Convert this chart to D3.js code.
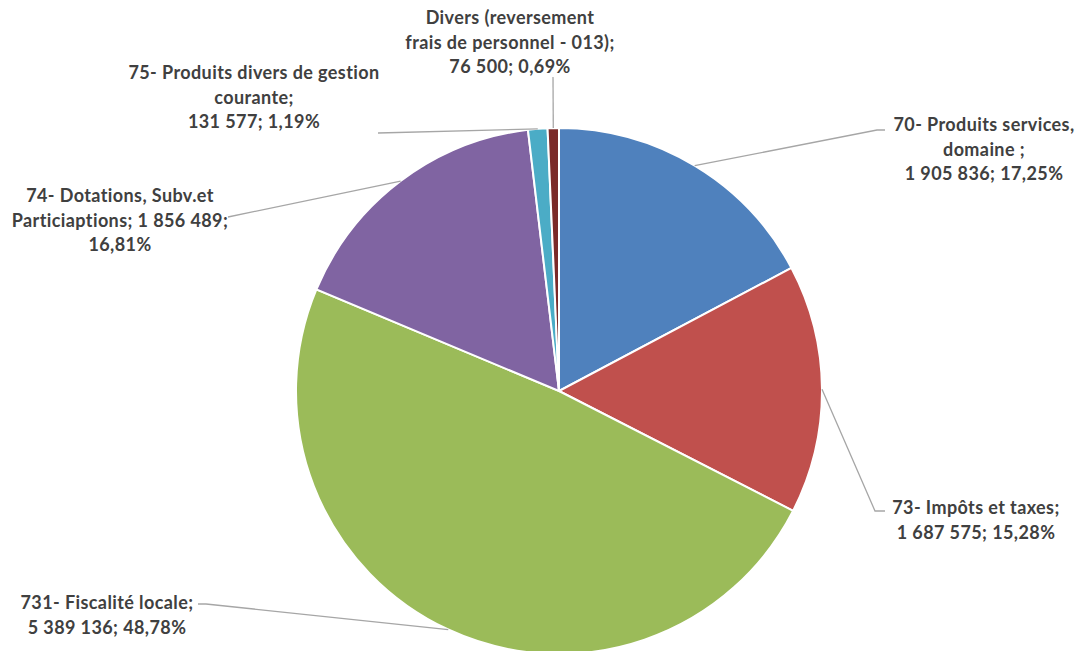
<!DOCTYPE html>
<html>
<head>
<meta charset="utf-8">
<script src="https://cdn.jsdelivr.net/npm/d3@7"></script>
<style>
  body { margin: 0; background: #fff; }
  svg { display: block; }
</style>
</head>
<body>
<div id="pie-div"></div>
<script>
// chart data
const categories = ["70", "73", "731", "74", "75", "Divers"]
const values = [1905836, 1687575, 5389136, 1856489, 131577, 76500]
const percents = ["17,25%", "15,28%", "48,78%", "16,81%", "1,19%", "0,69%"]
const valueLabels = ["1 905 836", "1 687 575", "5 389 136", "1 856 489", "131 577", "76 500"]
const labelLines = [
  ["70- Produits services,", "domaine ;", "1 905 836; 17,25%"],
  ["73- Impôts et taxes;", "1 687 575; 15,28%"],
  ["731- Fiscalité locale;", "5 389 136; 48,78%"],
  ["74- Dotations, Subv.et", "Particiaptions; 1 856 489;", "16,81%"],
  ["75- Produits divers de gestion", "courante;", "131 577; 1,19%"],
  ["Divers (reversement", "frais de personnel - 013);", "76 500; 0,69%"]
]
const colors = ["#4f81bd", "#c0504d", "#9bbb59", "#8064a2", "#4bacc6", "#7b2a28"]

// layout of the labels: text centre x, first baseline, leader path end points
const labelPos = [
  {x: 984, y: 131, leader: [[877, 130], [885, 130]]},
  {x: 976, y: 514, leader: [[875, 511], [885, 511]]},
  {x: 107, y: 609, leader: [[206, 604], [198, 604]]},
  {x: 120, y: 202, leader: [[228, 217]]},
  {x: 254, y: 79,  leader: [[378, 133]]},
  {x: 510, y: 24,  leader: [[553, 77]]}
]

var width = 1088, height = 651
const cx = 559, cy = 391, radius = 263

var svg = d3.select("#pie-div")
  .append("svg")
    .attr("width", width)
    .attr("height", height)

const g = svg.append("g")
  .attr("transform", `translate(${cx}, ${cy})`)

const pie = d3.pie()
  .sort(null)
  .value(d => d)
const data_ready = pie(values)

const arcGenerator = d3.arc()
  .innerRadius(0)
  .outerRadius(radius)

g.selectAll("path.slice")
  .data(data_ready)
  .join("path")
    .attr("class", "slice")
    .attr("d", arcGenerator)
    .attr("fill", (d, i) => colors[i])
    .attr("stroke", "#fff")
    .style("stroke-width", "2px")

// leader lines: start on the outer edge at the middle angle of each slice
const line = d3.line()
data_ready.forEach((d, i) => {
  const a = (d.startAngle + d.endAngle) / 2
  const start = [cx + radius * Math.sin(a), cy - radius * Math.cos(a)]
  svg.append("path")
    .attr("d", line([start].concat(labelPos[i].leader)))
    .attr("fill", "none")
    .attr("stroke", "#a6a6a6")
    .style("stroke-width", "1.3px")
})

// labels
labelLines.forEach((lines, i) => {
  const t = svg.append("text")
    .attr("text-anchor", "middle")
    .style("font-family", "Lato, 'Open Sans', sans-serif")
    .style("font-weight", 700)
    .style("font-size", "18px")
    .style("letter-spacing", "0.4px")
    .style("fill", "#404040")
  lines.forEach((s, j) => {
    t.append("tspan")
      .attr("x", labelPos[i].x)
      .attr("y", labelPos[i].y + j * 24.5)
      .text(s)
  })
})
</script>
</body>
</html>
